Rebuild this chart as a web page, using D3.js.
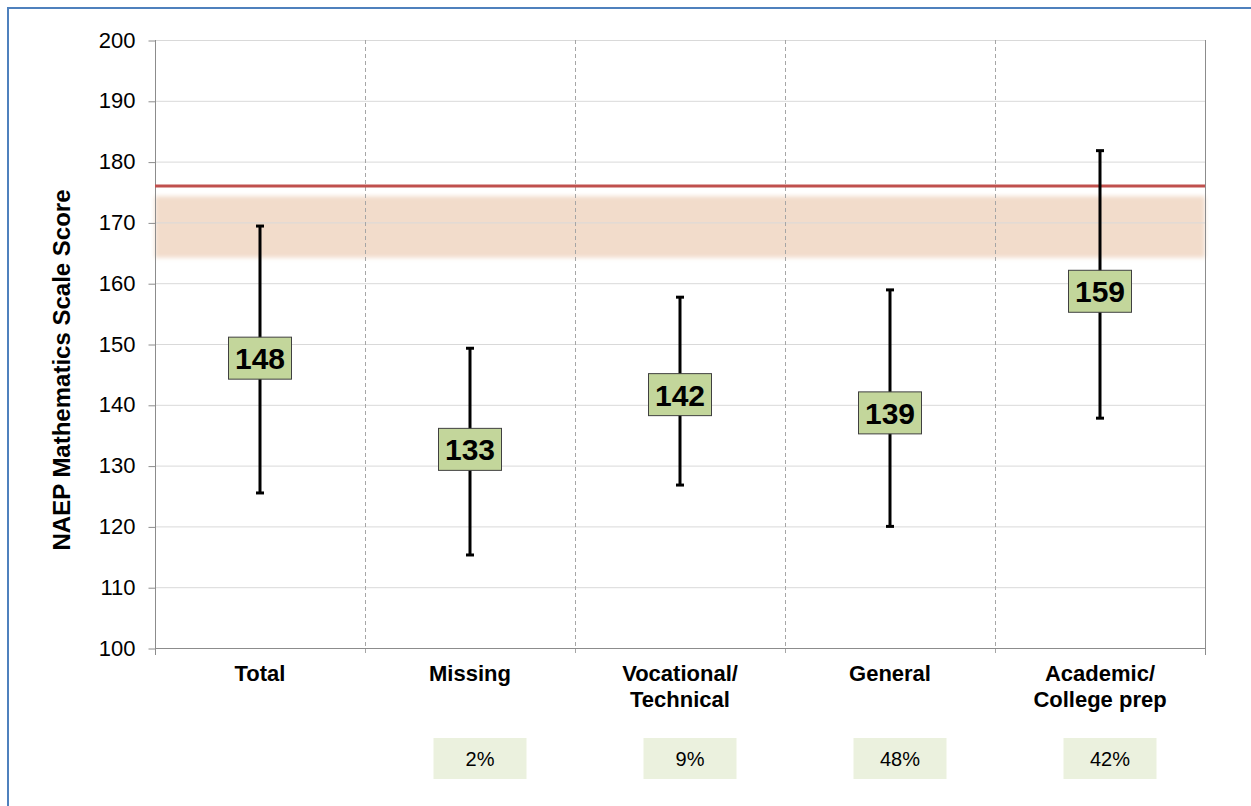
<!DOCTYPE html>
<html>
<head>
<meta charset="utf-8">
<script src="https://cdn.jsdelivr.net/npm/d3@7"></script>
<style>
  body { margin: 0; background: #fff; }
  svg { display: block; font-family: Arial, "Liberation Sans", sans-serif; }
</style>
</head>
<body>
<svg id="chart" width="1251" height="806"></svg>
<script>
// data
var categories = ["Total", "Missing", "Vocational/\nTechnical", "General", "Academic/\nCollege prep"];
var means = [148, 133, 142, 139, 159];
var lower = [125.5, 115.3, 126.8, 120, 137.8];
var upper = [169.4, 149.3, 157.7, 158.9, 181.8];
var shares = [null, 2, 9, 48, 42];
var yTicks = [100, 110, 120, 130, 140, 150, 160, 170, 180, 190, 200];
var proficientLine = 176;
var band = [164.2, 174.3];

var margin = {top: 40, right: 46, bottom: 158, left: 155},
    width = 1251 - margin.left - margin.right,
    height = 806 - margin.top - margin.bottom;

var svg = d3.select("#chart");

// blue frame round the figure
svg.append("path")
    .attr("d", "M8,806 L8,8 L1251,8")
    .attr("fill", "none")
    .attr("stroke", "#4f81bd")
    .attr("stroke-width", 2);

var defs = svg.append("defs");
defs.append("filter").attr("id", "soft")
    .attr("x", "-5%").attr("y", "-50%").attr("width", "110%").attr("height", "200%")
  .append("feGaussianBlur").attr("stdDeviation", 2.2);
defs.append("filter").attr("id", "shadow")
    .attr("x", "-5%").attr("y", "-100%").attr("width", "110%").attr("height", "400%")
  .append("feGaussianBlur").attr("stdDeviation", 1.2);

var g = svg.append("g").attr("transform", "translate(" + margin.left + "," + margin.top + ")");

var x = d3.scaleBand().domain(categories).range([0, width]);
var y = d3.scaleLinear().domain([100, 200]).range([height, 0]);

// shaded band
g.append("rect")
    .attr("x", 0)
    .attr("width", width)
    .attr("y", y(band[1]))
    .attr("height", y(band[0]) - y(band[1]))
    .attr("fill", "#f2dccb")
    .attr("filter", "url(#soft)");

// horizontal gridlines
g.append("g").selectAll("line")
    .data(yTicks)
  .enter().append("line")
    .attr("x1", 0).attr("x2", width)
    .attr("y1", function(d) { return y(d) + 0.5; })
    .attr("y2", function(d) { return y(d) + 0.5; })
    .attr("stroke", "#d9d9d9");

// dashed separators between the groups
var bounds = categories.slice(1).map(function(c) { return x(c); });
g.append("g").selectAll("line")
    .data(bounds)
  .enter().append("line")
    .attr("x1", function(d) { return Math.round(d) + 0.5; })
    .attr("x2", function(d) { return Math.round(d) + 0.5; })
    .attr("y1", 0).attr("y2", height + 7)
    .attr("stroke", "#a6a6a6")
    .attr("stroke-dasharray", "4,3");

// right edge of plot
g.append("line")
    .attr("x1", width + 0.5).attr("x2", width + 0.5)
    .attr("y1", 0).attr("y2", height + 7)
    .attr("stroke", "#8c8c8c");

// y axis
var yAxis = g.append("g")
    .attr("transform", "translate(0.5,0)")
    .call(d3.axisLeft(y).tickValues(yTicks).tickSize(7).tickPadding(13));
yAxis.select(".domain").attr("stroke", "#8c8c8c").attr("d", "M0," + (height + 7) + "V0");
yAxis.selectAll(".tick line").attr("stroke", "#8c8c8c").attr("transform", "translate(0,0.5)");
yAxis.selectAll("text")
    .style("font-size", "22px")
    .style("font-family", "Arial, 'Liberation Sans', sans-serif")
    .attr("fill", "#000");

// x axis line
g.append("line")
    .attr("x1", 0).attr("x2", width)
    .attr("y1", height + 0.5).attr("y2", height + 0.5)
    .attr("stroke", "#8c8c8c");

// axis title
svg.append("text")
    .attr("transform", "translate(70," + (margin.top + height / 2 + 26) + ") rotate(-90)")
    .attr("text-anchor", "middle")
    .style("font-size", "24px")
    .style("font-weight", "bold")
    .text("NAEP Mathematics Scale Score");

// category labels
var catLabel = g.append("g").selectAll("text")
    .data(categories)
  .enter().append("text")
    .attr("x", function(d) { return x(d) + x.bandwidth() / 2; })
    .attr("y", height + 33)
    .attr("text-anchor", "middle")
    .style("font-size", "22px")
    .style("font-weight", "bold");
catLabel.each(function(d) {
  var t = d3.select(this);
  d.split("\n").forEach(function(line, i) {
    t.append("tspan")
        .attr("x", x(d) + x.bandwidth() / 2)
        .attr("dy", i === 0 ? 0 : 26)
        .text(line);
  });
});

// proficient line with a faint shadow
g.append("line")
    .attr("x1", 0).attr("x2", width)
    .attr("y1", y(proficientLine) + 2).attr("y2", y(proficientLine) + 2)
    .attr("stroke", "#000").attr("stroke-opacity", 0.25)
    .attr("stroke-width", 3)
    .attr("filter", "url(#shadow)");
g.append("line")
    .attr("x1", 0).attr("x2", width)
    .attr("y1", y(proficientLine)).attr("y2", y(proficientLine))
    .attr("stroke", "#c0504d")
    .attr("stroke-width", 3);

// error bars
var bars = g.append("g").selectAll("g")
    .data(categories)
  .enter().append("g")
    .attr("transform", function(d) { return "translate(" + (x(d) + x.bandwidth() / 2) + ",0)"; });

bars.append("line")
    .attr("y1", function(d, i) { return y(upper[i]); })
    .attr("y2", function(d, i) { return y(lower[i]); })
    .attr("stroke", "#000")
    .attr("stroke-width", 3);
bars.append("line")
    .attr("x1", -4).attr("x2", 4)
    .attr("y1", function(d, i) { return y(upper[i]); })
    .attr("y2", function(d, i) { return y(upper[i]); })
    .attr("stroke", "#000").attr("stroke-width", 3);
bars.append("line")
    .attr("x1", -4).attr("x2", 4)
    .attr("y1", function(d, i) { return y(lower[i]); })
    .attr("y2", function(d, i) { return y(lower[i]); })
    .attr("stroke", "#000").attr("stroke-width", 3);

// mean boxes
bars.append("rect")
    .attr("x", -31.5)
    .attr("width", 63)
    .attr("y", function(d, i) { return y(means[i]) - 19; })
    .attr("height", 42)
    .attr("fill", "#c3d69b")
    .attr("stroke", "#404040")
    .attr("stroke-width", 1);
bars.append("text")
    .attr("y", function(d, i) { return y(means[i]) + 13; })
    .attr("text-anchor", "middle")
    .style("font-size", "30px")
    .style("font-weight", "bold")
    .text(function(d, i) { return means[i]; });

// share boxes under the axis
var shareG = g.append("g").selectAll("g")
    .data(categories.filter(function(d, i) { return shares[i] != null; }))
  .enter().append("g")
    .attr("transform", function(d) { return "translate(" + (x(d) + x.bandwidth() / 2 + 10) + "," + (height + 90) + ")"; });
shareG.append("rect")
    .attr("x", -46.5).attr("width", 93)
    .attr("y", 0).attr("height", 41)
    .attr("fill", "#ebf1de");
shareG.append("text")
    .attr("y", 28)
    .attr("text-anchor", "middle")
    .style("font-size", "20px")
    .text(function(d) { return shares[categories.indexOf(d)] + "%"; });
</script>
</body>
</html>
